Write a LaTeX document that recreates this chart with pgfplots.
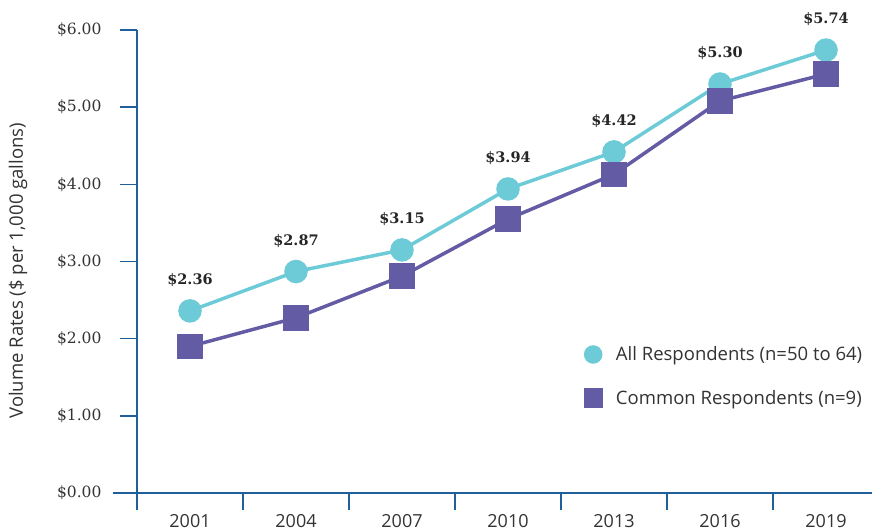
\documentclass[border=0pt]{standalone}
\usepackage{pgfplots}
\pgfplotsset{compat=1.18}
\usepackage{fontspec}
\setmainfont{Open Sans}
\newfontfamily\serifnum{DejaVu Serif}
\definecolor{cyanc}{HTML}{6CCBD6}
\definecolor{purp}{HTML}{645BA5}
\definecolor{axc}{HTML}{1F5F9B}
\definecolor{txt}{HTML}{333333}
\begin{document}
\begin{tikzpicture}[x=1bp,y=1bp]
\useasboundingbox (0,0) rectangle (872,531);
\begin{axis}[
  at={(137bp,38bp)}, anchor=south west, scale only axis,
  width=742bp, height=463bp,
  xmin=0.5, xmax=7.5, ymin=0, ymax=6,
  axis line style={draw=none},
  clip=false,
  xtick={1,2,3,4,5,6,7},
  xticklabels={2001,2004,2007,2010,2013,2016,2019},
  minor xtick={0.5,1.5,2.5,3.5,4.5,5.5,6.5,7.5},
  ytick={0,1,2,3,4,5,6},
  xtick pos=bottom, ytick pos=left,
  tick align=outside,
  major tick length=17bp, minor tick length=17bp,
  major x tick style={draw=none},
  minor x tick style={axc, line width=1.5pt},
  major y tick style={axc, line width=1.5pt},
  /pgf/number format/assume math mode=true,
  yticklabel={\$\pgfmathprintnumber[fixed,fixed zerofill,precision=2]{\tick}},
  yticklabel style={font=\serifnum\fontsize{15.5bp}{18bp}\selectfont, text=txt, anchor=east, xshift=-15bp},
  xticklabel style={font=\fontsize{18bp}{21bp}\selectfont, text=txt, anchor=north, yshift=-1bp},
  ylabel={Volume Rates (\$ per 1,000 gallons)},
  every axis y label/.style={at={(rel axis cs:0,0.48)}, rotate=90, anchor=center, yshift=119bp, font=\fontsize{18.5bp}{21bp}\selectfont, text=txt},
  legend style={at={(rel axis cs:0.6,0.325)}, anchor=north west, draw=none, fill=none,
    font=\fontsize{18.5bp}{21bp}\selectfont, text=txt, row sep=24bp,
    /tikz/every odd column/.append style={column sep=13bp}},
  legend cell align=left,
]
\draw[axc, line width=1.5pt] ([xshift=-24bp]rel axis cs:0,0) -- ([xshift=10bp]rel axis cs:1,0);
\draw[axc, line width=1.5pt] (rel axis cs:0,1) -- ([yshift=-10bp]rel axis cs:0,0);
\addplot[cyanc, line width=3.5pt, mark=*, mark size=10bp, mark options={fill=cyanc, draw=none},
  nodes near coords={\$\pgfmathprintnumber[fixed,fixed zerofill,precision=2]{\pgfplotspointmeta}},
  every node near coord/.append style={font=\serifnum\bfseries\fontsize{14.5bp}{17bp}\selectfont, text=black!85, anchor=south, yshift=19bp},
  legend image code/.code={\draw[cyanc, only marks, mark=*, mark size=7.5bp, mark options={fill=cyanc, draw=none}] plot coordinates {(10bp,0bp)};}
] coordinates {(1,2.36)(2,2.87)(3,3.15)(4,3.94)(5,4.42)(6,5.30)(7,5.74)};
\addlegendentry{All Respondents (n=50 to 64)}
\addplot[purp, line width=3.5pt, mark=square*, mark size=11bp, mark options={fill=purp, draw=none},
  legend image code/.code={\draw[purp, only marks, mark=square*, mark size=7.8bp, mark options={fill=purp, draw=none}] plot coordinates {(10bp,0bp)};}
] coordinates {(1,1.90)(2,2.27)(3,2.81)(4,3.55)(5,4.13)(6,5.08)(7,5.43)};
\addlegendentry{Common Respondents (n=9)}
\end{axis}
\end{tikzpicture}
\end{document}
